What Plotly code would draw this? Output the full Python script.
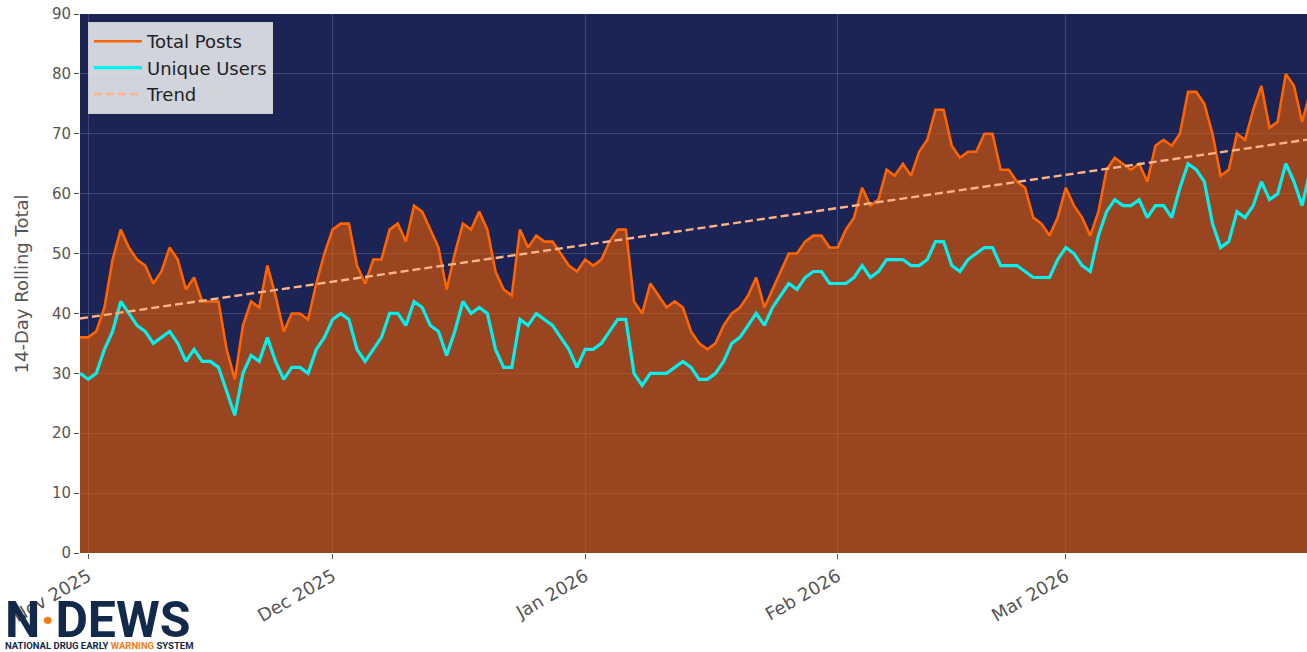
import pandas as pd
import plotly.graph_objects as go

# ---- data (14-day rolling totals, daily from 2025-10-31) ----
start_date = "2025-10-31"
total_posts = [36, 36, 37, 41, 49, 54, 51, 49, 48, 45, 47, 51, 49, 44, 46, 42, 42, 42, 34, 29,
               38, 42, 41, 48, 43, 37, 40, 40, 39, 45, 50, 54, 55, 55, 48, 45, 49, 49, 54, 55,
               52, 58, 57, 54, 51, 44, 50, 55, 54, 57, 54, 47, 44, 43, 54, 51, 53, 52, 52, 50,
               48, 47, 49, 48, 49, 52, 54, 54, 42, 40, 45, 43, 41, 42, 41, 37, 35, 34, 35, 38,
               40, 41, 43, 46, 41, 44, 47, 50, 50, 52, 53, 53, 51, 51, 54, 56, 61, 58, 59, 64,
               63, 65, 63, 67, 69, 74, 74, 68, 66, 67, 67, 70, 70, 64, 64, 62, 61, 56, 55, 53,
               56, 61, 58, 56, 53, 57, 64, 66, 65, 64, 65, 62, 68, 69, 68, 70, 77, 77, 75, 70,
               63, 64, 70, 69, 74, 78, 71, 72, 80, 78, 72, 77]
unique_users = [30, 29, 30, 34, 37, 42, 40, 38, 37, 35, 36, 37, 35, 32, 34, 32, 32, 31, 27, 23,
                30, 33, 32, 36, 32, 29, 31, 31, 30, 34, 36, 39, 40, 39, 34, 32, 34, 36, 40, 40,
                38, 42, 41, 38, 37, 33, 37, 42, 40, 41, 40, 34, 31, 31, 39, 38, 40, 39, 38, 36,
                34, 31, 34, 34, 35, 37, 39, 39, 30, 28, 30, 30, 30, 31, 32, 31, 29, 29, 30, 32,
                35, 36, 38, 40, 38, 41, 43, 45, 44, 46, 47, 47, 45, 45, 45, 46, 48, 46, 47, 49,
                49, 49, 48, 48, 49, 52, 52, 48, 47, 49, 50, 51, 51, 48, 48, 48, 47, 46, 46, 46,
                49, 51, 50, 48, 47, 53, 57, 59, 58, 58, 59, 56, 58, 58, 56, 61, 65, 64, 62, 55,
                51, 52, 57, 56, 58, 62, 59, 60, 65, 62, 58, 64]
trend_dates = ["2025-10-31", "2026-03-31"]
trend_values = [39.15, 69.1]

x_range = ["2025-10-31", "2026-03-30 14:24"]
y_ticks = [0, 10, 20, 30, 40, 50, 60, 70, 80, 90]

dates = pd.date_range(start_date, periods=len(total_posts), freq="D")

NAVY = "#1b2454"
FONT = "DejaVu Sans"

fig = go.Figure()

# filled area under total posts
fig.add_trace(go.Scatter(
    x=dates, y=total_posts, mode="lines", fill="tozeroy",
    fillcolor="rgba(230,90,0,0.62)", line=dict(width=0, color="rgba(0,0,0,0)"),
    showlegend=False, hoverinfo="skip"))

fig.add_trace(go.Scatter(
    x=dates, y=total_posts, mode="lines", name="Total Posts",
    line=dict(color="#ff6400", width=2.6)))

fig.add_trace(go.Scatter(
    x=dates, y=unique_users, mode="lines", name="Unique Users",
    line=dict(color="#00f2ee", width=3.2)))

fig.add_trace(go.Scatter(
    x=pd.to_datetime(trend_dates), y=trend_values, mode="lines", name="Trend",
    line=dict(color="#ffb387", width=2.4, dash="8px,4px")))

fig.update_layout(
    width=1307, height=652,
    margin=dict(l=80, r=0, t=14, b=99),
    paper_bgcolor="white",
    plot_bgcolor=NAVY,
    font=dict(family=FONT, color="#555555"),
    legend=dict(
        x=0.0065, y=0.985, xanchor="left", yanchor="top",
        bgcolor="rgba(255,255,255,0.8)", bordercolor="#cccccc", borderwidth=1,
        font=dict(family=FONT, size=18, color="#222222"),
        tracegroupgap=0, itemwidth=48),
    xaxis=dict(
        type="date", range=x_range,
        tick0="2025-11-01", dtick="M1", tickformat="%b %Y",
        tickangle=-30, ticks="outside", ticklen=5, tickcolor="#555555",
        tickfont=dict(family=FONT, size=18, color="#555555"),
        showgrid=True, gridcolor="rgba(255,255,255,0.16)", gridwidth=1,
        showline=False, zeroline=False),
    yaxis=dict(
        range=[0, 90], tickvals=y_ticks,
        ticks="outside", ticklen=5, tickcolor="#555555",
        tickfont=dict(family=FONT, size=15, color="#555555"),
        showgrid=True, gridcolor="rgba(255,255,255,0.16)", gridwidth=1,
        showline=False, zeroline=False),
)

# y-axis title (placed as annotation to match position)
fig.add_annotation(
    text="14-Day Rolling Total", textangle=-90,
    xref="paper", yref="paper", x=-0.0473, y=0.5,
    xanchor="center", yanchor="middle", showarrow=False,
    font=dict(family=FONT, size=18, color="#555555"))

# logo
fig.add_annotation(
    text="<b>N<span style='color:#f47b20'>·</span>DEWS</b>",
    xref="paper", yref="paper", x=-0.063, y=-0.066,
    xanchor="left", yanchor="top", showarrow=False,
    font=dict(family="Roboto", size=50, color="#13294b"))
fig.add_annotation(
    text="<b>NATIONAL DRUG EARLY <span style='color:#f47b20'>WARNING</span> SYSTEM</b>",
    xref="paper", yref="paper", x=-0.0625, y=-0.1716,
    xanchor="left", yanchor="middle", showarrow=False,
    font=dict(family="Liberation Sans Narrow, Roboto", size=9.5, color="#13294b"))

fig.write_html(
    "out.html",
    config={"displayModeBar": False},
    post_script="document.body.style.margin='0px';document.body.style.overflow='hidden';")
